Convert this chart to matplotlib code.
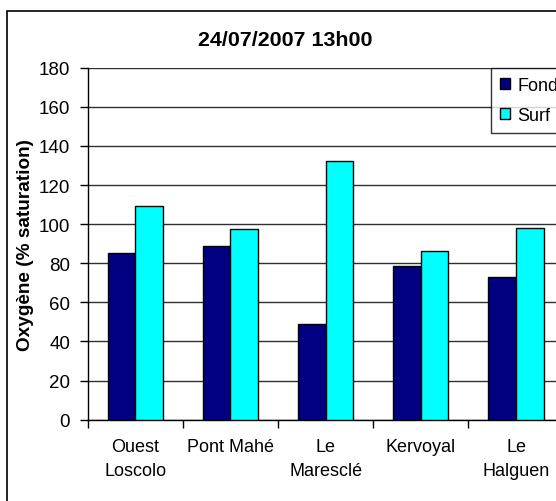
import matplotlib
matplotlib.use("Agg")
import matplotlib.pyplot as plt
import matplotlib.patches as mpatches
import numpy as np

plt.rcParams['font.family'] = ['Liberation Sans', 'DejaVu Sans']

sites = ["Ouest\nLoscolo", "Pont Mahé", "Le\nMaresclé", "Kervoyal", "Le\nHalguen"]
fond = [85.3, 88.8, 48.9, 78.4, 73.2]
surf = [109.5, 97.5, 132.2, 86.1, 98.2]
yticks = list(range(0, 181, 20))

W, H = 556, 502
fig = plt.figure(figsize=(W / 100, H / 100), dpi=100)

# outer chart frame (cut by the image on right/bottom, as in the original)
frame = mpatches.Rectangle((7 / W, -0.1), 1.2, 1.1 - 12.3 / H,
                           transform=fig.transFigure, fill=False,
                           edgecolor='black', linewidth=1.2)
fig.patches.append(frame)

ax = fig.add_axes([87.6 / W, 1 - 420.7 / H, 476 / W, 352 / H])

x = np.arange(len(sites))
bw = 0.29
ax.bar(x - bw / 2, fond, bw, color='#000080', edgecolor='black', linewidth=1.0, zorder=3)
ax.bar(x + bw / 2, surf, bw, color='#00FFFF', edgecolor='black', linewidth=1.0, zorder=3)

ax.set_xlim(-0.5, len(sites) - 0.5)
ax.set_ylim(0, 180)
ax.set_yticks(yticks)
ax.yaxis.grid(True, color='#303030', linewidth=1.0, zorder=0)
ax.axhline(180, color='#a0a0a0', linewidth=1.2, zorder=1)

ax.set_xticks(x)
ax.set_xticklabels(sites, fontsize=13, linespacing=1.5)
ax.set_xticks(np.arange(-0.5, len(sites)), minor=True)
ax.tick_params(axis='x', which='major', length=0, pad=13.5)
ax.tick_params(axis='x', which='minor', length=5.5, width=1, direction='out')
ax.tick_params(axis='y', labelsize=13.5, length=5.5, width=1, direction='out', pad=7)

for s in ['top', 'right']:
    ax.spines[s].set_visible(False)
for s in ['left', 'bottom']:
    ax.spines[s].set_color('black')
    ax.spines[s].set_linewidth(1.0)

ax.set_ylabel("Oxygène (% saturation)", fontsize=13.7, fontweight='bold')
ax.yaxis.set_label_coords(-0.112, 0.5)

fig.text(285.5 / W, 1 - 40 / H, "24/07/2007 13h00", fontsize=15.4,
         fontweight='bold', ha='center', va='center')

handles = [mpatches.Patch(facecolor='#000080', edgecolor='black', linewidth=1.0),
           mpatches.Patch(facecolor='#00FFFF', edgecolor='black', linewidth=1.0)]
leg = fig.legend(handles, ["Fond", "Surf"], loc='upper left',
                 bbox_to_anchor=(491 / W, 1 - 68.5 / H), fontsize=13,
                 frameon=True, fancybox=False, shadow=False,
                 handlelength=0.55, handleheight=0.55, handletextpad=0.4,
                 labelspacing=0.75, borderpad=0.5, borderaxespad=0)
leg.get_frame().set_edgecolor('black')
leg.get_frame().set_linewidth(1.0)

fig.savefig("out.png", dpi=100)
